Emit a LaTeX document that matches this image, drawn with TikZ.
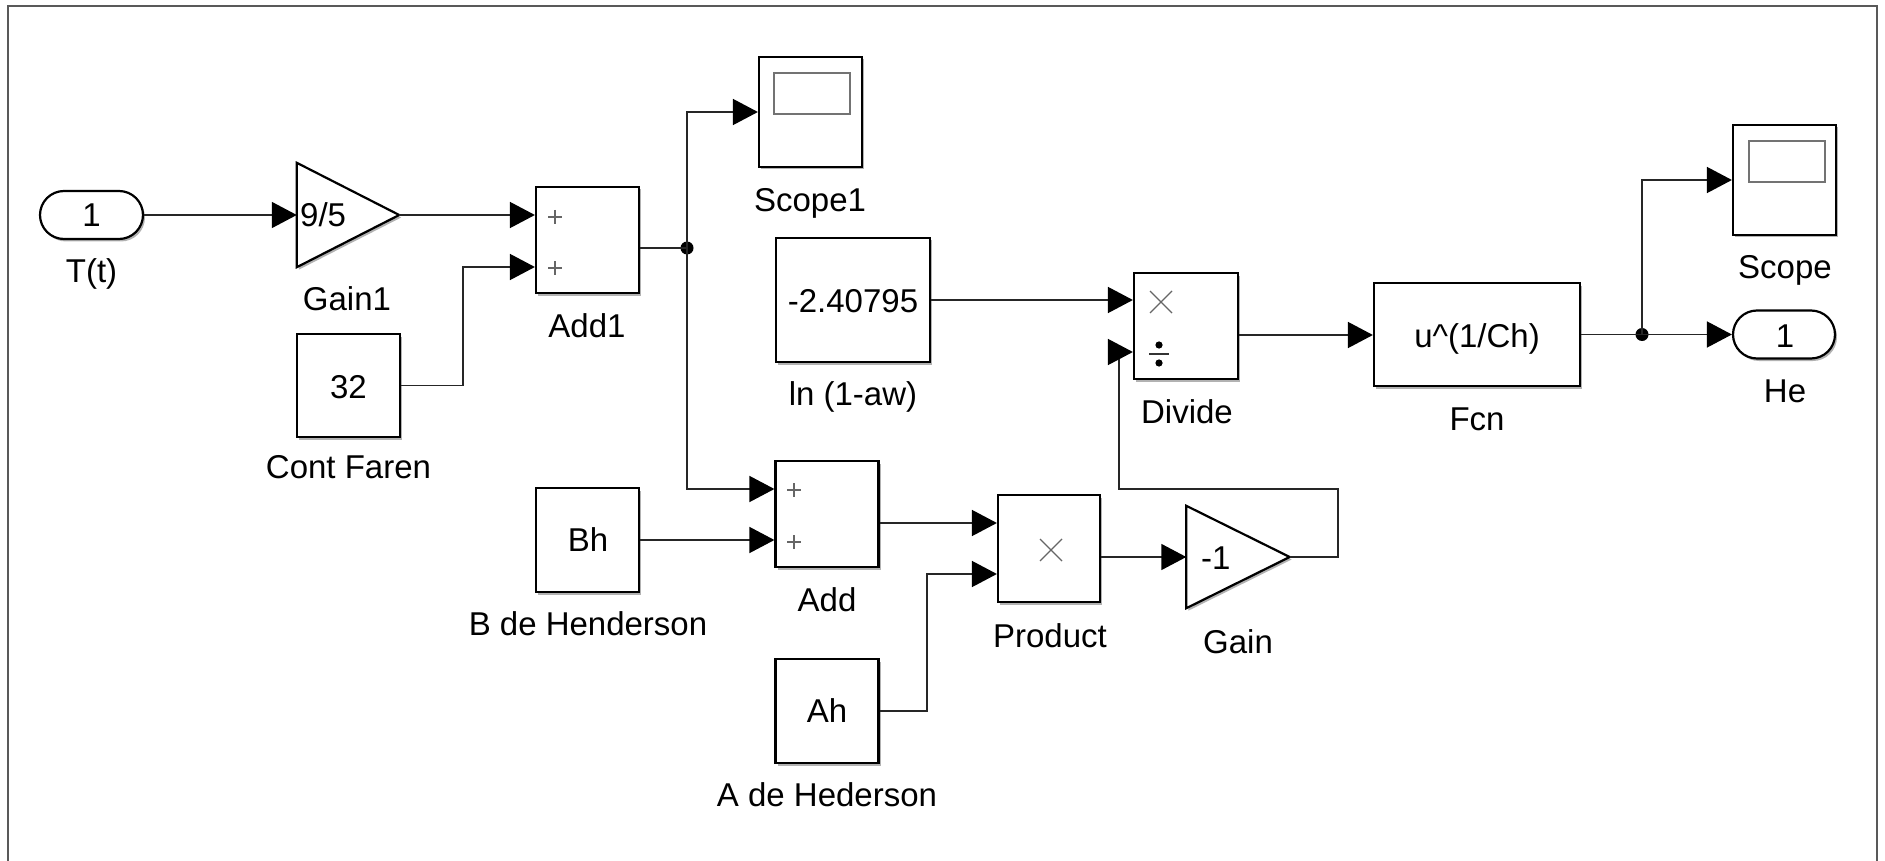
\documentclass[tikz,border=0pt]{standalone}
\usepackage{fontspec}
\setmainfont{Liberation Sans}
\usetikzlibrary{arrows.meta,calc,shadows}
\tikzset{
  txt/.style={font=\fontsize{33}{40}\selectfont, inner sep=0pt, anchor=base},
  blk/.style={draw=black, line width=2.2pt, fill=white, inner sep=0pt,
    drop shadow={shadow xshift=2pt, shadow yshift=-2.5pt, opacity=0.3, fill=black}},
  portblk/.style={blk, rounded corners=24pt},
  tribox/.style={inner sep=0pt, draw=none},
  triline/.style={draw=black, line width=2.2pt, fill=white, line join=miter,
    drop shadow={shadow xshift=2pt, shadow yshift=-2.5pt, opacity=0.3, fill=black}},
  wire/.style={line width=1.6pt, draw=black!85},
  conn/.style={wire, -{Triangle[length=25pt,width=26pt,color=black]}},
  sym/.style={line width=1.1pt, draw=black!60},
  scr/.style={line width=1.5pt, draw=black!55},
  dot/.style={circle, fill=black, inner sep=0pt, minimum size=13pt},
}
\begin{document}
\begin{tikzpicture}[x=1pt,y=-1pt]
\useasboundingbox (0,0) rectangle (1885,861);
\draw[line width=2pt, draw=black!65] (8,861) -- (8,6) -- (1877,6) -- (1877,861);

% ---------- blocks ----------
\node[portblk, minimum width=103pt, minimum height=48pt] (tin) at (91.5,215) {};
\node[txt] (tintxt) at (91.5,227) {1};
\node[txt] (tinlbl) at (91.5,283) {T(t)};

\node[tribox, minimum width=102pt, minimum height=104pt] (gain1) at (348,215) {};
\path[triline] (gain1.north west) -- (gain1.east) -- (gain1.south west) -- cycle;
\node[txt, anchor=base west] (gain1txt) at (300,227) {9/5};
\node[txt] (gain1lbl) at (347,310) {Gain1};

\node[blk, minimum width=103pt, minimum height=106pt] (add1) at (587.5,240) {};
\node[txt] (add1lbl) at (587,337) {Add1};

\node[blk, minimum width=103pt, minimum height=103pt] (c32) at (348.5,385.5) {};
\node[txt] (c32txt) at (348.5,398) {32};
\node[txt] (c32lbl) at (348.5,478) {Cont Faren};

\node[blk, minimum width=103pt, minimum height=110pt] (scope1) at (810.5,112) {};
\draw[scr] (774,73) rectangle (850,114);
\node[txt] (scope1lbl) at (810,212) {Scope1};

\node[blk, minimum width=154pt, minimum height=124pt] (cln) at (853,300) {};
\node[txt] (clntxt) at (853,312) {-2.40795};
\node[txt] (clnlbl) at (853,405) {ln (1-aw)};

\node[blk, minimum width=104pt, minimum height=106pt] (divide) at (1186,326) {};
\node[txt] (dividelbl) at (1187,423) {Divide};

\node[blk, minimum width=206pt, minimum height=103pt] (fcn) at (1477,334.5) {};
\node[txt] (fcntxt) at (1477,347) {u\textasciicircum(1/Ch)};
\node[txt] (fcnlbl) at (1477,430) {Fcn};

\node[blk, minimum width=103pt, minimum height=110pt] (scope) at (1784.5,180) {};
\draw[scr] (1749,141) rectangle (1825,182);
\node[txt] (scopelbl) at (1785,279) {Scope};

\node[portblk, minimum width=102pt, minimum height=48pt] (he) at (1784,334.5) {};
\node[txt] (hetxt) at (1785,347) {1};
\node[txt] (helbl) at (1785,402) {He};

\node[blk, minimum width=103pt, minimum height=104pt] (bh) at (587.5,540) {};
\node[txt] (bhtxt) at (588,551) {Bh};
\node[txt] (bhlbl) at (588,635) {B de Henderson};

\node[blk, minimum width=103pt, minimum height=106pt] (add) at (827,514) {};
\node[txt] (addlbl) at (827,611) {Add};

\node[blk, minimum width=102pt, minimum height=107pt] (product) at (1049,548.5) {};
\node[txt] (productlbl) at (1050,647) {Product};

\node[blk, minimum width=103pt, minimum height=104pt] (ah) at (827,711) {};
\node[txt] (ahtxt) at (827,722) {Ah};
\node[txt] (ahlbl) at (827,806) {A de Hederson};

\node[tribox, minimum width=103pt, minimum height=102pt] (gain) at (1238,557) {};
\path[triline] (gain.north west) -- (gain.east) -- (gain.south west) -- cycle;
\node[txt, anchor=base west] (gaintxt) at (1201,569) {-1};
\node[txt] (gainlbl) at (1238,653) {Gain};

% ---------- block symbols ----------
\draw[sym] (548,217) -- (562,217) (555,210) -- (555,224);
\draw[sym] (548,268) -- (562,268) (555,261) -- (555,275);
\draw[sym] (787,490) -- (801,490) (794,483) -- (794,497);
\draw[sym] (787,542) -- (801,542) (794,535) -- (794,549);
\draw[sym] (1150,291) -- (1172,313) (1150,313) -- (1172,291);
\draw[sym, line width=1.5pt, draw=black!80] (1149,354) -- (1169,354);
\fill[black] (1159,345) circle (3.6pt) (1159,363) circle (3.6pt);
\draw[sym] (1040,539) -- (1062,561) (1040,561) -- (1062,539);

% ---------- ports ----------
\coordinate (add1in2) at ([yshift=-27pt]add1.west);
\coordinate (add1out) at ([yshift=-8pt]add1.east);
\coordinate (addin1) at ([yshift=25pt]add.west);
\coordinate (addout) at ([yshift=-9pt]add.east);
\coordinate (prodin2) at ([yshift=-25.5pt]product.west);
\coordinate (prodout) at ([yshift=-8.5pt]product.east);
\coordinate (divin2) at ([yshift=-26pt]divide.west);
\coordinate (divout) at ([yshift=-9pt]divide.east);
\coordinate (fbcorner) at (1119,489);
\node[dot] (b1) at (687,248) {};
\node[dot] (b2) at (1642,334.5) {};

% ---------- connectors ----------
\draw[conn] (tin.east) -- (tin.east -| gain1.west);
\draw[conn] (gain1.east) -- (gain1.east -| add1.west);
\draw[conn] (c32.east) -- ++(62,0) |- (add1in2);
\draw[wire] (add1out) -- (b1.center);
\draw[conn] (b1.center) |- (scope1.west);
\draw[conn] (b1.center) |- (addin1);
\draw[conn] (bh.east) -- (bh.east -| add.west);
\draw[conn] (addout) -- (addout -| product.west);
\draw[conn] (ah.east) -- ++(47.5,0) |- (prodin2);
\draw[conn] (prodout) -- (prodout -| gain.west);
\draw[conn] (gain.east) -- ++(48.5,0) |- (fbcorner) |- (divin2);
\draw[conn] (cln.east) -- (cln.east -| divide.west);
\draw[conn] (divout) -- (divout -| fcn.west);
\draw[wire] (fcn.east) -- (b2.center);
\draw[conn] (b2.center) -- (b2.center -| he.west);
\draw[conn] (b2.center) |- (scope.west);
\end{tikzpicture}
\end{document}
